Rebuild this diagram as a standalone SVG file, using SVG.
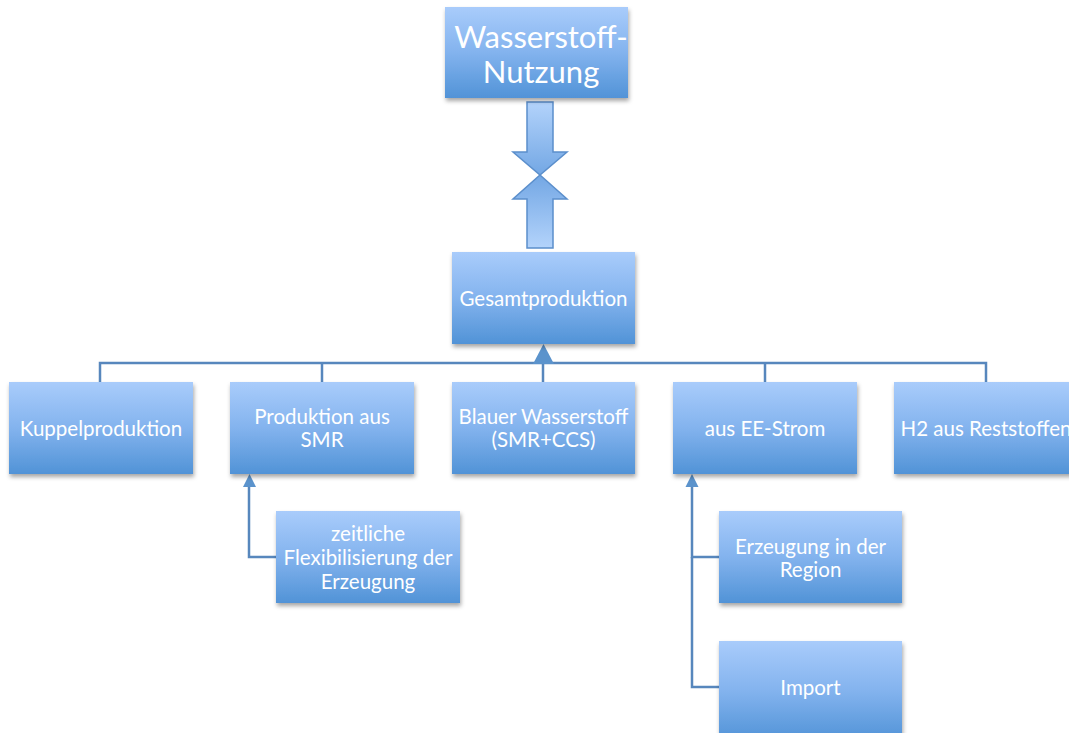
<svg xmlns="http://www.w3.org/2000/svg" width="1069" height="733" viewBox="0 0 1069 733">
<defs>
<linearGradient id="boxg" x1="0" y1="0" x2="0" y2="1">
<stop offset="0" stop-color="#a9ccfb"/>
<stop offset="0.5" stop-color="#83b3ee"/>
<stop offset="1" stop-color="#5193d7"/>
</linearGradient>
<linearGradient id="arrDown" x1="0" y1="0" x2="0" y2="1">
<stop offset="0" stop-color="#b3d3fb"/>
<stop offset="1" stop-color="#73a7e4"/>
</linearGradient>
<linearGradient id="arrUp" x1="0" y1="1" x2="0" y2="0">
<stop offset="0" stop-color="#b3d3fb"/>
<stop offset="1" stop-color="#73a7e4"/>
</linearGradient>
<filter id="sh" x="-10%" y="-10%" width="125%" height="130%">
<feDropShadow dx="1" dy="3" stdDeviation="2" flood-color="#000" flood-opacity="0.35"/>
</filter>
</defs>
<style>
.box{fill:url(#boxg);filter:url(#sh);}
.t{font-family:"Lato","Liberation Sans",sans-serif;font-size:20.5px;fill:#ffffff;text-anchor:middle;}
.tt{font-family:"Lato","Liberation Sans",sans-serif;font-size:31px;fill:#ffffff;text-anchor:middle;}
.c{fill:none;stroke:#5787bd;stroke-width:2.5;}
.arr{stroke:#5b8fcc;stroke-width:1.5;}
</style>
<g id="connectors">
<path class="c" d="M100,382 V363 H986 V382"/>
<path class="c" d="M322,382 V363"/>
<path class="c" d="M765,382 V363"/>
<path class="c" d="M543,382 V364"/>
<path d="M533,364 L543.5,344 L554,364 Z" fill="#5b93cc"/>
<path class="c" d="M276,557 H249 V486"/>
<path d="M243,487 L249.5,474 L256,487 Z" fill="#5b93cc"/>
<path class="c" d="M719,557 H692 V486"/>
<path class="c" d="M719,687 H692 V557"/>
<path d="M685.5,487 L692,474 L698.5,487 Z" fill="#5b93cc"/>
<polygon class="arr" fill="url(#arrDown)" points="527,102 553,102 553,152 567,152 540,175 513,152 527,152"/>
<polygon class="arr" fill="url(#arrUp)" points="540,175 567,199 553,199 553,248 527,248 527,199 513,199"/>
</g>
<g id="node-nutzung">
<rect class="box" x="445" y="7" width="183" height="91"/>
<text class="tt" x="541" y="48">Wasserstoff-</text>
<text class="tt" x="541" y="83">Nutzung</text>
</g>
<g id="node-gesamt">
<rect class="box" x="452" y="252" width="183" height="92"/>
<text class="t" x="543.5" y="306">Gesamtproduktion</text>
</g>
<g id="node-kuppel">
<rect class="box" x="9" y="382" width="184" height="92"/>
<text class="t" x="101" y="436">Kuppelproduktion</text>
</g>
<g id="node-smr">
<rect class="box" x="230" y="382" width="184" height="92"/>
<text class="t" x="322" y="424">Produktion aus</text>
<text class="t" x="322" y="447">SMR</text>
</g>
<g id="node-blau">
<rect class="box" x="452" y="382" width="183" height="92"/>
<text class="t" x="543.5" y="424">Blauer Wasserstoff</text>
<text class="t" x="543.5" y="447">(SMR+CCS)</text>
</g>
<g id="node-ee">
<rect class="box" x="673" y="382" width="184" height="92"/>
<text class="t" x="765" y="436">aus EE-Strom</text>
</g>
<g id="node-h2">
<rect class="box" x="894" y="382" width="184" height="92"/>
<text class="t" x="986" y="436">H2 aus Reststoffen</text>
</g>
<g id="node-zeitlich">
<rect class="box" x="276" y="511" width="184" height="92"/>
<text class="t" x="368" y="541">zeitliche</text>
<text class="t" x="368" y="565">Flexibilisierung der</text>
<text class="t" x="368" y="589">Erzeugung</text>
</g>
<g id="node-region">
<rect class="box" x="719" y="511" width="183" height="92"/>
<text class="t" x="810.5" y="554">Erzeugung in der</text>
<text class="t" x="810.5" y="577">Region</text>
</g>
<g id="node-import">
<rect class="box" x="719" y="641" width="183" height="100"/>
<text class="t" x="810.5" y="695">Import</text>
</g>
</svg>
